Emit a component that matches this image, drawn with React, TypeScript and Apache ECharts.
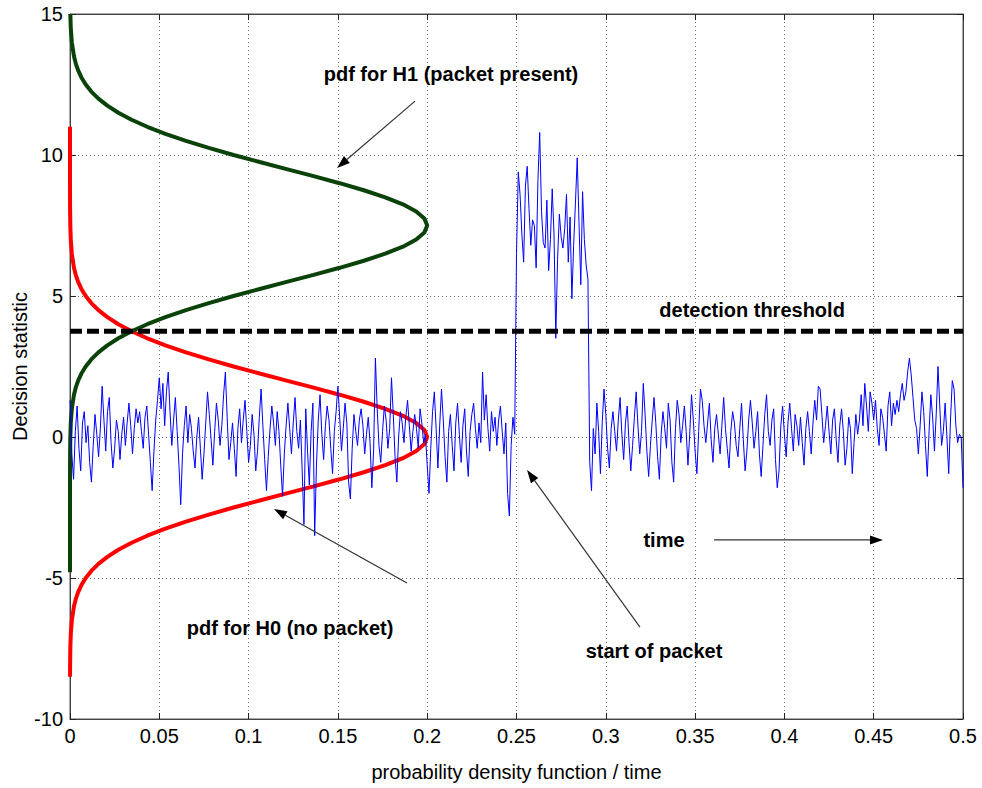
import React, { useEffect, useRef } from "react";
import * as echarts from "echarts";

// ---------------- data ----------------
const X_MIN = 0;
const X_MAX = 0.5;
const X_INTERVAL = 0.05;
const Y_MIN = -10;
const Y_MAX = 15;
const Y_INTERVAL = 5;

const THRESHOLD = 3.75;

// sampled decision statistic over time (sample spacing NOISE_STEP)
const NOISE_STEP = 0.001;
const NOISE = [
  1.3, -0.6, -1.5, 0.2, 1.1, -0.4, -1.2, 0.5, 0.9, -0.2, 0.4, -0.9, -1.6, -0.3, 0.8, 0.1, -0.7, 0.3, 1.8, 0.6, -0.5, 0.9, 1.4, -0.2, -1.1,
  -0.4, 0.6, 0.2, -0.8, 0.1, 0.7, -0.3, 0.5, 1.2, 0.4, -0.6, 0.3, 1.0, 0.5, 0.9, 0.2, -0.4, 0.7, 1.1, 0.1, -0.9, -1.9, -0.5, 0.6, 1.3,
  2.1, 1.0, 1.9, 0.4, 1.6, 2.3, 0.9, -0.3, 0.6, 1.4, 0.2, -1.0, -2.4, -0.6, 0.4, 1.1, -0.2, 0.8, 0.3, -0.5, -1.1, 0.0, 0.7, -0.4, -1.5,
  -0.6, 0.5, 1.6, 0.8, -0.1, -1.0, 0.2, 1.2, 0.6, -0.3, 0.4, 1.5, 2.3, 0.7, -0.8, -0.2, 0.5, -0.4, -1.4, 0.3, 1.0, -0.2, 0.6, 1.3, 0.2,
  -0.9, -0.3, 0.8, 0.1, -1.2, -0.5, 0.7, 1.7, 0.4, -0.8, -1.9, -0.7, 0.3, 1.1, 0.5, -0.3, 0.9, 0.2, -1.0, -2.1, -0.6, 0.4, 1.2, 0.3, -0.6,
  0.5, 1.4, 0.2, -0.4, 0.6, -1.2, -3.1, 1.0, -0.5, -1.7, 0.2, 1.2, -3.5, -1.0, 0.6, 1.5, 0.1, -0.8, 0.4, 1.1, 0.6, -0.4, -1.3, 0.2, 0.9,
  1.8, 0.7, -0.5, 0.3, 1.2, 0.5, -1.6, -2.2, -0.4, 0.8, 0.2, -0.3, 0.6, 1.0, 0.4, -0.6, 0.1, 0.7, -0.2, -1.8, -0.5, 2.8, 1.0, -0.3, -0.9,
  0.2, 1.1, 0.6, -0.4, 0.3, 2.1, 0.8, -0.7, -1.6, 0.0, 0.9, 0.5, -0.2, 0.7, 1.3, 0.4, -0.5, 0.2, 0.8, 0.3, -0.4, 1.0, 0.5, -0.2, 0.1,
  -1.0, -2.0, -0.4, 0.9, 1.6, 0.3, -1.1, 0.4, 1.7, 0.6, -0.7, -1.6, 0.2, 0.8, -0.3, -1.2, 0.5, 1.2, 0.1, -0.9, 0.4, 1.0, -0.5, -1.4, 0.2,
  0.8, 1.2, 0.3, -0.4, 0.5, -0.2, 2.3, 0.6, 1.5, 0.3, -0.5, 0.9, 0.2, 0.7, -0.3, 0.6, 1.1, 0.2, -0.6, 0.5, -2.0, -2.8, -0.3, 0.7, 0.1,
  6.5, 9.4, 8.6, 7.2, 6.2, 8.9, 9.6, 8.1, 6.8, 7.7, 7.5, 6.0, 9.1, 10.8, 8.0, 6.9, 6.7, 8.4, 5.9, 7.0, 8.8, 7.2, 3.5, 6.3, 7.9,
  7.1, 6.7, 7.4, 8.6, 6.2, 7.8, 4.9, 6.8, 8.3, 9.9, 7.6, 5.4, 8.7, 7.0, 6.1, 5.6, -0.9, -1.9, 0.3, -0.6, 1.2, 0.2, -1.3, 0.5, 1.7,
  0.8, -0.4, -1.1, 0.3, 0.9, 0.2, -0.5, 0.6, 1.4, 0.1, -0.8, 0.5, 1.1, -0.2, -1.2, -0.3, 0.7, 1.6, 0.4, -0.6, 0.2, 1.9, 0.8, -0.5, -1.4,
  -0.3, 0.6, 1.4, 0.5, -0.7, -1.5, 0.1, 0.9, 0.3, -0.4, 1.2, 0.6, -0.9, -1.6, 0.3, 1.3, 0.8, -0.2, 0.4, 1.1, 0.2, -1.0, 0.1, 1.5, 0.6,
  -0.5, -1.3, 0.2, 1.7, 1.3, 0.4, -0.2, 0.5, 1.2, -0.1, -0.9, 0.3, 0.8, 0.1, -0.6, 0.4, 1.4, 0.3, -0.4, -1.1, 0.2, 0.9, 0.5, -0.3, -0.7,
  0.3, 1.2, -0.1, -1.2, -0.5, 0.6, 1.3, 0.5, -0.4, 0.2, 0.9, -0.6, -1.4, -0.3, 0.8, 1.5, 0.2, -0.3, 0.6, 1.0, -0.8, -1.8, -1.2, 0.4, 1.1,
  0.1, -0.7, 0.5, 1.2, 0.3, -0.5, 0.8, 0.4, -0.3, 0.7, -0.2, -1.0, 0.3, 0.9, 0.2, -0.6, 0.5, 1.3, 0.6, 1.8, 1.7, 0.8, -0.2, 0.4, 1.1,
  0.2, -0.6, 0.6, 1.0, -0.1, -0.9, 0.4, 1.0, 0.2, -1.0, -0.4, 0.7, 0.3, -1.3, -0.2, 0.8, 0.1, 0.6, 1.5, 0.4, 1.9, 1.1, 0.2, 1.6, 1.2,
  0.6, 1.3, 0.3, -0.3, 1.0, 0.7, 0.1, -0.5, 1.1, 1.6, 0.4, 1.2, 0.8, 1.3, 0.9, 1.5, 1.9, 1.3, 1.6, 2.3, 2.8, 2.2, 1.4, 0.6, 0.3,
  -0.6, 0.4, 1.6, 0.9, -0.3, -1.4, 0.2, 1.5, 0.7, -0.5, 0.8, 2.5, 1.1, -0.3, 0.2, 1.2, 0.0, -1.3, 0.6, 2.0, 1.7, 0.4, -0.2, 0.1, 0.0,
  -1.8,
];

// pdf for H0 (no packet): decision statistic values and density
const H0_Y = [
  -8.5, -8, -7.5, -7, -6.5,
  -6, -5.75, -5.5, -5.25, -5, -4.75, -4.5, -4.25, -4, -3.75, -3.5, -3.25, -3, -2.75, -2.5, -2.25, -2, -1.75, -1.5, -1.25, -1, -0.75, -0.5, -0.25,
  0,
  0.25, 0.5, 0.75, 1, 1.25, 1.5, 1.75, 2, 2.25, 2.5, 2.75, 3, 3.25, 3.5, 3.75, 4, 4.25, 4.5, 4.75, 5, 5.25, 5.5, 5.75, 6,
  6.5, 7, 7.5, 8, 8.5, 9, 10, 11,
];
const H0_PDF = [
  0.00002, 0.00007, 0.00018, 0.00044, 0.00102,
  0.00222, 0.00321, 0.00456, 0.00638, 0.00879, 0.01192, 0.01591, 0.02092, 0.02707, 0.03448, 0.04325, 0.05341, 0.06493, 0.07771, 0.09157, 0.10622, 0.12131, 0.13639, 0.15097, 0.16452, 0.1765, 0.18642, 0.19385, 0.19844,
  0.2,
  0.19844, 0.19385, 0.18642, 0.1765, 0.16452, 0.15097, 0.13639, 0.12131, 0.10622, 0.09157, 0.07771, 0.06493, 0.05341, 0.04325, 0.03448, 0.02707, 0.02092, 0.01591, 0.01192, 0.00879, 0.00638, 0.00456, 0.00321, 0.00222,
  0.00102, 0.00044, 0.00018, 0.00007, 0.00002, 0, 0, 0,
];

// pdf for H1 (packet present)
const H1_Y = [
  -4.8, -3, -1, -0.5, 0, 0.5, 1,
  1.5, 1.75, 2, 2.25, 2.5, 2.75, 3, 3.25, 3.5, 3.75, 4, 4.25, 4.5, 4.75, 5, 5.25, 5.5, 5.75, 6, 6.25, 6.5, 6.75, 7, 7.25,
  7.5,
  7.75, 8, 8.25, 8.5, 8.75, 9, 9.25, 9.5, 9.75, 10, 10.25, 10.5, 10.75, 11, 11.25, 11.5, 11.75, 12, 12.25, 12.5, 12.75, 13, 13.25, 13.5,
  14, 14.5, 15,
];
const H1_PDF = [
  0, 0, 0.00002, 0.00007, 0.00018, 0.00044, 0.00102,
  0.00222, 0.00321, 0.00456, 0.00638, 0.00879, 0.01192, 0.01591, 0.02092, 0.02707, 0.03448, 0.04325, 0.05341, 0.06493, 0.07771, 0.09157, 0.10622, 0.12131, 0.13639, 0.15097, 0.16452, 0.1765, 0.18642, 0.19385, 0.19844,
  0.2,
  0.19844, 0.19385, 0.18642, 0.1765, 0.16452, 0.15097, 0.13639, 0.12131, 0.10622, 0.09157, 0.07771, 0.06493, 0.05341, 0.04325, 0.03448, 0.02707, 0.02092, 0.01591, 0.01192, 0.00879, 0.00638, 0.00456, 0.00321, 0.00222,
  0.00102, 0.00044, 0.00018,
];

// ---------------- annotations (data coordinates) ----------------
const ANNOTATION_TEXTS = [
  { text: "pdf for H1 (packet present)", at: [0.2133, 12.87] },
  { text: "detection threshold", at: [0.3819, 4.5] },
  { text: "time", at: [0.3326, -3.65] },
  { text: "pdf for H0 (no packet)", at: [0.1232, -6.77] },
  { text: "start of packet", at: [0.327, -7.59] },
];
const ANNOTATION_ARROWS = [
  { from: [0.1932, 11.91], to: [0.1495, 9.54] },
  { from: [0.1887, -5.18], to: [0.1142, -2.55] },
  { from: [0.3191, -6.74], to: [0.2559, -1.17] },
  { from: [0.3606, -3.65], to: [0.4552, -3.65] },
];

const FONT = '"Liberation Sans", Arial, Helvetica, sans-serif';

export default function App() {
  const ref = useRef<HTMLDivElement | null>(null);

  useEffect(() => {
    document.body.style.margin = "0";
    if (!ref.current) return;
    const chart = echarts.init(ref.current, null, { renderer: "svg" });

    const noiseData = NOISE.map((v, i) => [i * NOISE_STEP, v]);
    const h0Data = H0_Y.map((y, i) => [H0_PDF[i], y]);
    const h1Data = H1_Y.map((y, i) => [H1_PDF[i], y]);

    const axisCommon = {
      type: "value" as const,
      axisLine: { show: true, onZero: false, lineStyle: { color: "#444", width: 1 } },
      axisTick: { show: true, inside: true, length: 6, lineStyle: { color: "#222" } },
    };

    chart.setOption({
      animation: false,
      backgroundColor: "#ffffff",
      grid: {
        left: 70,
        top: 14,
        width: 893,
        height: 705,
        containLabel: false,
        outerBoundsMode: "none",
        show: true,
        borderColor: "#555",
        borderWidth: 1,
        backgroundColor: "transparent",
      },
      xAxis: [
        {
          ...axisCommon,
          min: X_MIN,
          max: X_MAX,
          interval: X_INTERVAL,
          position: "bottom",
          axisLabel: { color: "#000", fontSize: 20, fontFamily: FONT, margin: 7 },
          splitLine: { show: true, lineStyle: { color: "#6f6f6f", type: [1, 3], width: 1 } },
          name: "probability density function / time",
          nameLocation: "middle",
          nameGap: 43,
          nameMoveOverlap: false,
          nameTextStyle: { color: "#000", fontSize: 20, fontFamily: FONT },
        },
        {
          ...axisCommon,
          min: X_MIN,
          max: X_MAX,
          interval: X_INTERVAL,
          position: "top",
          axisLabel: { show: false },
          splitLine: { show: false },
        },
      ],
      yAxis: [
        {
          ...axisCommon,
          min: Y_MIN,
          max: Y_MAX,
          interval: Y_INTERVAL,
          position: "left",
          axisLabel: { color: "#000", fontSize: 20, fontFamily: FONT, margin: 7 },
          splitLine: { show: true, lineStyle: { color: "#6f6f6f", type: [1, 3], width: 1 } },
          name: "Decision statistic",
          nameLocation: "middle",
          nameGap: 40,
          nameMoveOverlap: false,
          nameRotate: 90,
          nameTextStyle: { color: "#000", fontSize: 20, fontFamily: FONT },
        },
        {
          ...axisCommon,
          min: Y_MIN,
          max: Y_MAX,
          interval: Y_INTERVAL,
          position: "right",
          axisLabel: { show: false },
          splitLine: { show: false },
        },
      ],
      series: [
        {
          name: "pdf H0",
          type: "line",
          data: h0Data,
          showSymbol: false,
          lineStyle: { color: "#ff0000", width: 4 },
          z: 2,
        },
        {
          name: "pdf H1",
          type: "line",
          data: h1Data,
          showSymbol: false,
          lineStyle: { color: "#0a420a", width: 4 },
          z: 3,
        },
        {
          name: "statistic",
          type: "line",
          data: noiseData,
          showSymbol: false,
          lineStyle: { color: "#0000ff", width: 1 },
          z: 4,
        },
        {
          name: "threshold",
          type: "line",
          data: [
            [X_MIN, THRESHOLD],
            [X_MAX, THRESHOLD],
          ],
          showSymbol: false,
          lineStyle: { color: "#000000", width: 5, type: [12, 5] },
          z: 5,
        },
      ],
    });

    const toPx = (p: number[]) => chart.convertToPixel({ gridIndex: 0 }, p) as number[];

    const graphics: any[] = [];
    ANNOTATION_ARROWS.forEach((a) => {
      const p1 = toPx(a.from);
      const p2 = toPx(a.to);
      const dx = p2[0] - p1[0];
      const dy = p2[1] - p1[1];
      const len = Math.sqrt(dx * dx + dy * dy);
      const ux = dx / len;
      const uy = dy / len;
      const L = 13;
      const W = 4.5;
      const bx = p2[0] - ux * L;
      const by = p2[1] - uy * L;
      graphics.push({
        type: "line",
        shape: { x1: p1[0], y1: p1[1], x2: bx, y2: by },
        style: { stroke: "#333", lineWidth: 1.2 },
        z: 100,
      });
      graphics.push({
        type: "polygon",
        shape: {
          points: [
            [p2[0], p2[1]],
            [bx - uy * W, by + ux * W],
            [bx + uy * W, by - ux * W],
          ],
        },
        style: { fill: "#000" },
        z: 100,
      });
    });
    ANNOTATION_TEXTS.forEach((t) => {
      const p = toPx(t.at);
      graphics.push({
        type: "text",
        x: p[0],
        y: p[1],
        style: {
          text: t.text,
          fill: "#000",
          fontSize: 20,
          fontWeight: "bold",
          fontFamily: FONT,
          align: "center",
          verticalAlign: "middle",
        },
        z: 100,
      });
    });
    chart.setOption({ graphic: graphics });

    return () => {
      chart.dispose();
    };
  }, []);

  return <div ref={ref} style={{ width: 982, height: 788 }} />;
}
